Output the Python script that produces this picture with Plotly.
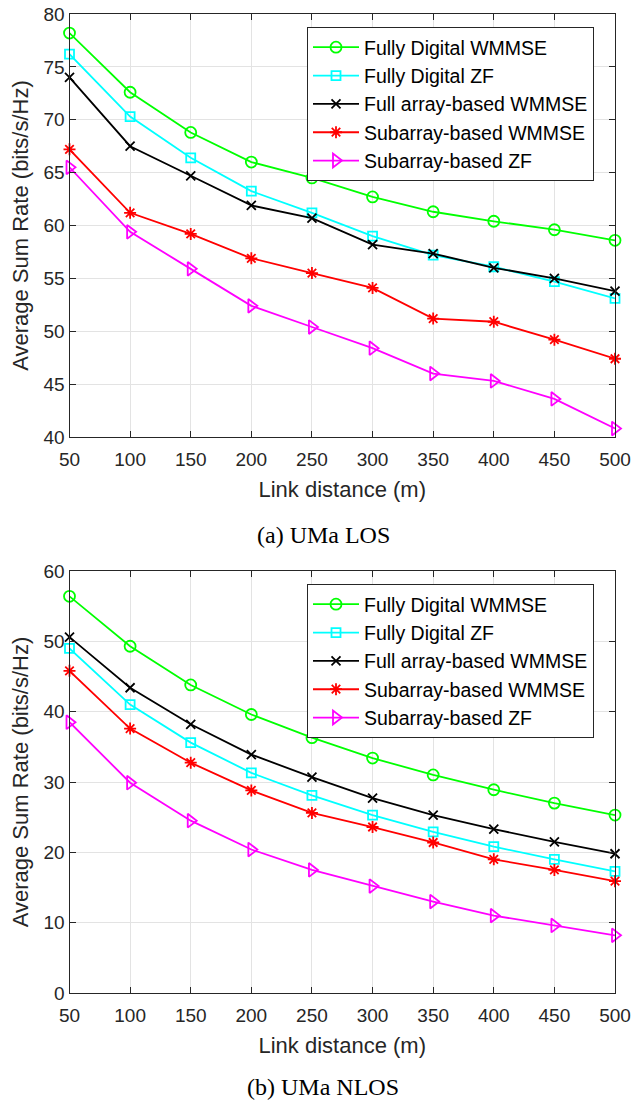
import plotly.graph_objects as go
from plotly.subplots import make_subplots

distance = [50, 100, 150, 200, 250, 300, 350, 400, 450, 500]
series_names = ["Fully Digital WMMSE", "Fully Digital ZF", "Full array-based WMMSE",
                "Subarray-based WMMSE", "Subarray-based ZF"]

# (a) UMa LOS
los_fd_wmmse = [78.2, 72.6, 68.8, 66.0, 64.5, 62.7, 61.3, 60.4, 59.6, 58.6]
los_fd_zf = [76.2, 70.3, 66.4, 63.25, 61.2, 59.0, 57.2, 56.1, 54.7, 53.1]
los_full_wmmse = [74.0, 67.5, 64.7, 61.9, 60.7, 58.2, 57.35, 56.0, 55.0, 53.8]
los_sub_wmmse = [67.2, 61.2, 59.2, 56.9, 55.5, 54.1, 51.2, 50.9, 49.2, 47.4]
los_sub_zf = [65.5, 59.4, 55.9, 52.4, 50.4, 48.4, 46.0, 45.3, 43.6, 40.8]

# (b) UMa NLOS
nlos_fd_wmmse = [56.4, 49.3, 43.8, 39.6, 36.3, 33.4, 31.0, 28.9, 27.0, 25.3]
nlos_fd_zf = [49.0, 41.0, 35.6, 31.3, 28.1, 25.3, 22.9, 20.8, 19.0, 17.3]
nlos_full_wmmse = [50.6, 43.4, 38.2, 33.9, 30.7, 27.7, 25.3, 23.3, 21.5, 19.8]
nlos_sub_wmmse = [45.8, 37.6, 32.75, 28.8, 25.6, 23.6, 21.4, 19.0, 17.5, 15.9]
nlos_sub_zf = [38.5, 29.9, 24.5, 20.4, 17.5, 15.2, 13.0, 11.0, 9.6, 8.2]

x_ticks = [50, 100, 150, 200, 250, 300, 350, 400, 450, 500]
los_y_ticks = [40, 45, 50, 55, 60, 65, 70, 75, 80]
nlos_y_ticks = [0, 10, 20, 30, 40, 50, 60]

colors = ["#00ff00", "#00ffff", "#000000", "#ff0000", "#ff00ff"]
symbols = ["circle-open", "square-open", "x-thin-open", "asterisk-open", "triangle-right-open"]
sizes = [11, 9, 9, 10, 12]

W, H = 633, 1102
fig = make_subplots(rows=2, cols=1)

los_sets = [los_fd_wmmse, los_fd_zf, los_full_wmmse, los_sub_wmmse, los_sub_zf]
nlos_sets = [nlos_fd_wmmse, nlos_fd_zf, nlos_full_wmmse, nlos_sub_wmmse, nlos_sub_zf]

for row, sets, leg in [(1, los_sets, "legend"), (2, nlos_sets, "legend2")]:
    for name, vals, c, s, sz in zip(series_names, sets, colors, symbols, sizes):
        fig.add_trace(go.Scatter(
            x=distance, y=vals, name=name, mode="lines+markers",
            line=dict(color=c, width=1.8),
            marker=dict(symbol=s, size=sz, color=c, line=dict(color=c, width=1.8)),
            legend=leg, showlegend=True, cliponaxis=False,
        ), row=row, col=1)

xd = [69.5 / W, 615 / W]
axis_common = dict(
    showline=True, linecolor="#262626", linewidth=1, mirror="ticks",
    ticks="inside", ticklen=6, tickcolor="#262626",
    showgrid=True, gridcolor="#e3e3e3", gridwidth=1, zeroline=False,
    automargin=False,
    tickfont=dict(family="Liberation Sans, Arial", size=19, color="#262626"),
)

fig.update_xaxes(**axis_common, range=[50, 500], tickvals=x_ticks, domain=xd,
                 ticklabelstandoff=5)
fig.update_yaxes(**axis_common)

fig.update_xaxes(title=dict(text="Link distance (m)", standoff=12,
                            font=dict(family="Liberation Sans, Arial", size=22, color="#262626")))
fig.update_yaxes(title=dict(text="Average Sum Rate (bits/s/Hz)", standoff=8,
                            font=dict(family="Liberation Sans, Arial", size=22, color="#262626")))

fig.update_yaxes(range=[40, 80], tickvals=los_y_ticks,
                 domain=[1 - 437 / H, 1 - 14 / H], row=1, col=1)
fig.update_yaxes(range=[0, 60], tickvals=nlos_y_ticks,
                 domain=[1 - 993 / H, 1 - 571 / H], row=2, col=1)

legend_style = dict(
    xanchor="left", yanchor="top", bgcolor="white",
    bordercolor="#262626", borderwidth=1,
    font=dict(family="Liberation Sans, Arial", size=19.5, color="#000000"),
    tracegroupgap=0, itemwidth=46,
)
fig.update_layout(
    width=W, height=H,
    margin=dict(l=0, r=0, t=0, b=0),
    paper_bgcolor="white", plot_bgcolor="white",
    legend=dict(x=307 / W, y=1 - 27 / H, **legend_style),
    legend2=dict(x=307 / W, y=1 - 584 / H, **legend_style),
)

cap_font = dict(family="Liberation Serif, Times New Roman", size=24, color="#000000")
fig.add_annotation(text="(a) UMa LOS", xref="paper", yref="paper",
                   x=323 / W, y=1 - 535 / H, showarrow=False, font=cap_font,
                   xanchor="center", yanchor="middle")
fig.add_annotation(text="(b) UMa NLOS", xref="paper", yref="paper",
                   x=323 / W, y=1 - 1087 / H, showarrow=False, font=cap_font,
                   xanchor="center", yanchor="middle")

fig.write_html("out.html", config={"displayModeBar": False},
               post_script="document.body.style.margin='0';document.body.style.overflow='hidden';")
